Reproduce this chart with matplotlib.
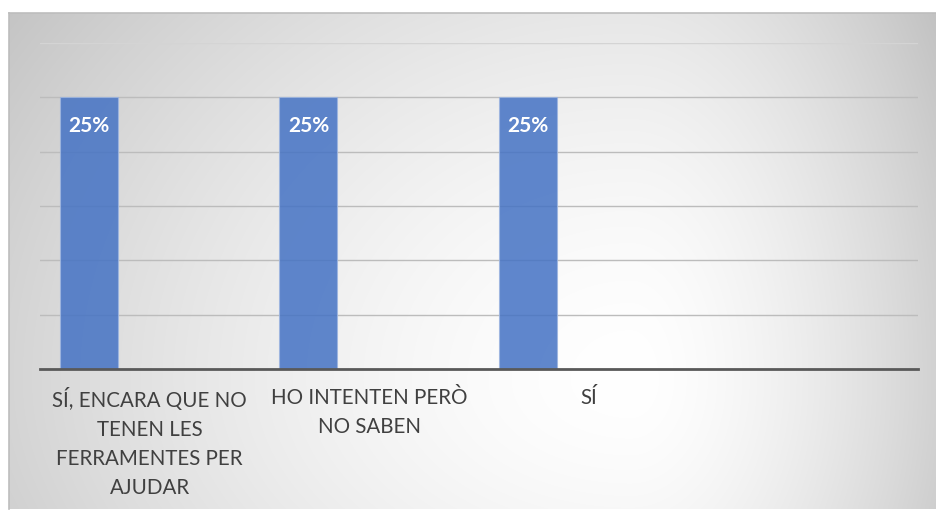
import matplotlib.pyplot as plt
import numpy as np

# category labels (4th slot is empty) and percentages
categories = ['SÍ, ENCARA QUE NO\nTENEN LES\nFERRAMENTES PER\nAJUDAR', 'HO INTENTEN PERÒ\nNO SABEN', 'SÍ', '']
values = [25, 25, 25, 0]
y_ticks = [0, 5, 10, 15, 20, 25, 30]

W, H = 936, 511
fig = plt.figure(figsize=(W / 100, H / 100), dpi=100)
fig.patch.set_facecolor('white')

# chart area with a soft radial gradient
bg = fig.add_axes([9 / W, 1 - 509 / H, (W - 9) / W, (509 - 13) / H])
yy, xx = np.mgrid[13:509, 9:W]
cx, cy = 630, 380
rx = np.where(xx < cx, 760, 360)
ry = np.where(yy < cy, 640, 480)
d = np.sqrt(((xx - cx) / rx) ** 2 + ((yy - cy) / ry) ** 2)
shade = np.clip(1 - 0.23 * d ** 1.6, 0.76, 1)
bg.imshow(np.dstack([shade] * 3), aspect='auto', extent=[0, 1, 0, 1], origin='upper')
bg.set_xlim(0, 1)
bg.set_ylim(0, 1)
bg.set_xticks([])
bg.set_yticks([])
for side in ['left', 'top']:
    bg.spines[side].set_color('#bdbdbd')
    bg.spines[side].set_linewidth(1.2)
for side in ['right', 'bottom']:
    bg.spines[side].set_visible(False)

ax = fig.add_axes([40 / W, 1 - 369 / H, 878 / W, 326 / H])
ax.patch.set_alpha(0)
x = np.arange(len(categories))
ax.set_xlim(-0.5, len(categories) - 0.5)
ax.set_ylim(0, 30)

for t in y_ticks[1:]:
    ax.axhline(t, color='#d4d4d4' if t == 30 else '#bcbcbc', lw=1.0, zorder=1)

bars = ax.bar(x - 0.277, values, width=0.264, color='#4472c4', alpha=0.85,
              edgecolor='#9db5e0', linewidth=0.8, zorder=2)
for xi, v in zip(x, values):
    if v > 0:
        ax.annotate(f'{v}%', xy=(xi - 0.277, v), xytext=(0, -20.5), textcoords='offset points',
                    ha='center', va='center', color='white', fontsize=15,
                    fontweight='bold', family='Lato', zorder=3)

ax.axhline(0, color='#595959', lw=2.0, zorder=4, clip_on=False)
for s in ax.spines.values():
    s.set_visible(False)
ax.set_yticks([])
ax.set_xticks(x)
ax.set_xticklabels(categories, family='Lato', fontsize=14.8, color='#404040', linespacing=1.56, va='top')
ax.tick_params(axis='x', length=0, pad=14)

fig.savefig('out.png', dpi=100)
